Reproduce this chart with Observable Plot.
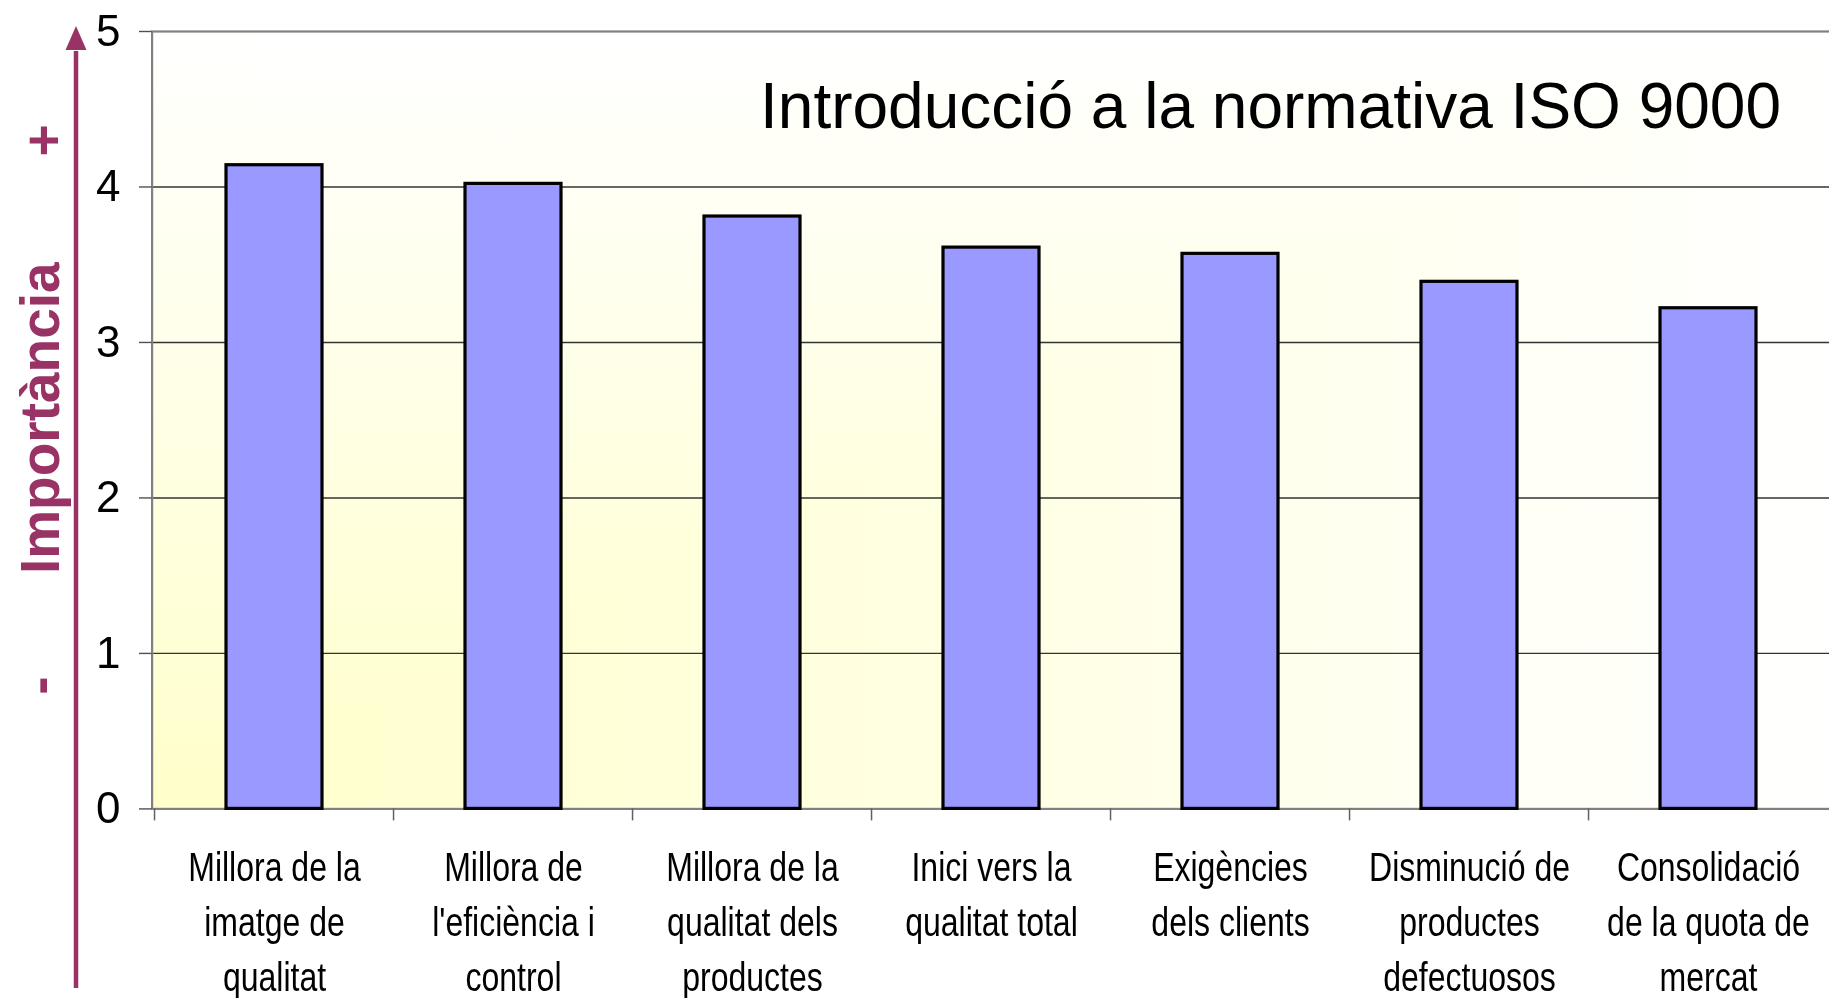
<!DOCTYPE html>
<html>
<head>
<meta charset="utf-8">
<script src="https://cdn.jsdelivr.net/npm/d3@7"></script>
<script src="https://cdn.jsdelivr.net/npm/@observablehq/plot@0.6"></script>
<style>
  html, body { margin: 0; padding: 0; background: #fff; overflow: hidden; }
  #chart svg { display: block; overflow: hidden; }
</style>
</head>
<body>
<svg width="0" height="0" style="position:absolute">
  <defs>
    <linearGradient id="gx" x1="0" y1="0" x2="1" y2="0">
      <stop offset="0" stop-color="#FFFFCA"/>
      <stop offset="1" stop-color="#FFFFFF"/>
    </linearGradient>
    <linearGradient id="gy" x1="0" y1="1" x2="0" y2="0">
      <stop offset="0" stop-color="#FFFFCA"/>
      <stop offset="1" stop-color="#FFFFFF"/>
    </linearGradient>
  </defs>
</svg>
<div id="chart"></div>
<script>
// ---- Data ----
const categories = [
  "Millora de la imatge de qualitat",
  "Millora de l'eficiència i control",
  "Millora de la qualitat dels productes",
  "Inici vers la qualitat total",
  "Exigències dels clients",
  "Disminució de productes defectuosos",
  "Consolidació de la quota de mercat"
];
const tickLabels = [
  "Millora de la\nimatge de\nqualitat",
  "Millora de\nl'eficiència i\ncontrol",
  "Millora de la\nqualitat dels\nproductes",
  "Inici vers la\nqualitat total",
  "Exigències\ndels clients",
  "Disminució de\nproductes\ndefectuosos",
  "Consolidació\nde la quota de\nmercat"
];
const values = [4.14, 4.02, 3.81, 3.61, 3.57, 3.39, 3.22];
const yTicks = [0, 1, 2, 3, 4, 5];
const gridTicks = [1, 2, 3, 4];
const title = "Introducció a la normativa ISO 9000";
const axisTitle = "Importància";
const plusSign = "+";
const minusSign = "-";

// ---- Layout / style ----
const W = 1829, H = 998;
const mL = 151.6, mR = -2, mT = 31, mB = 189.6;
const step = (W - mL - mR) / categories.length;
const accent = "#993366";
const sans = "'Liberation Sans', Arial, Helvetica, sans-serif";

const data = categories.map((c, i) => ({category: c, value: values[i]}));
const labelOf = new Map(categories.map((c, i) => [c, tickLabels[i]]));

function arrowMark(index, scales, vals, dims) {
  const g = d3.create("svg:g");
  const x = dims.marginLeft - 75.6;
  const yTip = dims.marginTop - 5;
  const yBase = dims.marginTop + 19;
  const yBottom = dims.height - 10;
  g.append("line")
    .attr("x1", x).attr("x2", x)
    .attr("y1", yBottom).attr("y2", yBase + 1)
    .attr("stroke", accent).attr("stroke-width", 4.5);
  g.append("path")
    .attr("d", `M${x - 10.5},${yBase}L${x},${yTip}L${x + 10.5},${yBase}Z`)
    .attr("fill", accent);
  return g.node();
}

const chart = Plot.plot({
  width: W,
  height: H,
  marginLeft: mL,
  marginRight: mR,
  marginTop: mT,
  marginBottom: mB,
  style: {fontFamily: sans, background: "#fff", color: "#000"},
  x: {domain: categories, paddingInner: 0.6, paddingOuter: 0.3, axis: null},
  y: {domain: [0, 5], axis: null},
  marks: [
    Plot.frame({fill: "url(#gx)"}),
    Plot.frame({fill: "url(#gy)", mixBlendMode: "lighten"}),
    Plot.gridY({ticks: gridTicks, stroke: "#333333", strokeOpacity: 1, strokeWidth: 1.4}),
    Plot.frame({stroke: "#808080", strokeWidth: 2.2}),
    Plot.barY(data, {x: "category", y: "value", fill: "#9999FF", stroke: "#000", strokeWidth: 3.2}),
    Plot.ruleX(categories, {x: (d) => d, y1: 0, y2: 0, dx: -step / 2, insetBottom: -12, stroke: "#606060", strokeWidth: 1.5}),
    Plot.axisY({
      ticks: yTicks, tickSize: 12.6, tickPadding: 19, tickFormat: (d) => String(d),
      fontSize: 44, fontFamily: sans, stroke: "#505050", strokeWidth: 1.4, label: null
    }),
    Plot.axisX({
      tickSize: 0, tickPadding: 33, tickFormat: (d) => labelOf.get(d),
      fontSize: 40, lineHeight: 1.375, fontFamily: sans, label: null
    }),
    Plot.text([title], {
      text: (d) => d, frameAnchor: "top-right", textAnchor: "end", lineAnchor: "bottom",
      dx: -50.5, dy: 96.7, fontSize: 64, fontFamily: sans, fill: "#000"
    }),
    Plot.text([axisTitle], {
      text: (d) => d, frameAnchor: "left", rotate: -90, textAnchor: "middle", lineAnchor: "bottom",
      dx: 58 - mL, dy: -2, fontSize: 55, fontWeight: "bold", fontFamily: sans, fill: accent
    }),
    Plot.text([plusSign], {
      text: (d) => d, frameAnchor: "left", rotate: -90, textAnchor: "middle", lineAnchor: "bottom",
      dx: 61 - mL, dy: 140 - (mT + (H - mB)) / 2, fontSize: 55, fontWeight: "bold", fontFamily: sans, fill: accent
    }),
    Plot.text([minusSign], {
      text: (d) => d, frameAnchor: "left", rotate: -90, textAnchor: "middle", lineAnchor: "bottom",
      dx: 57 - mL, dy: 685 - (mT + (H - mB)) / 2, fontSize: 55, fontWeight: "bold", fontFamily: sans, fill: accent
    }),
    arrowMark
  ]
});

// Condensed look of the category labels (horizontal squeeze of each label)
d3.select(chart).selectAll('g[aria-label="x-axis tick label"] text').each(function () {
  const t = this.getAttribute("transform") || "";
  this.setAttribute("transform", t + " scale(0.8,1)");
});

document.getElementById("chart").appendChild(chart);
</script>
</body>
</html>
